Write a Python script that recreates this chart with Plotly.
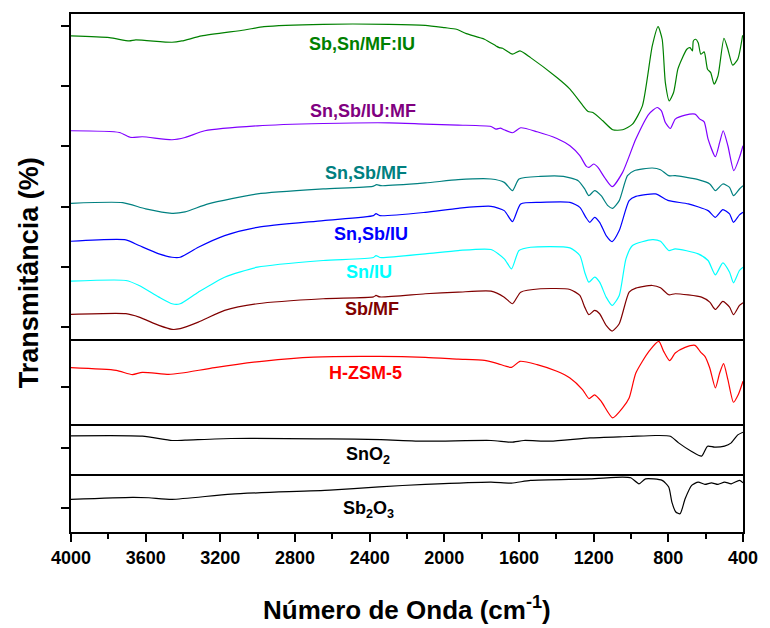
import plotly.graph_objects as go
from plotly.subplots import make_subplots

# ---- data (wavenumber, cm-1) and transmittance (arbitrary, stacked units) ----
wn_g = [4000, 3794, 3688, 3653, 3459, 3406, 3300, 3071, 2966, 2649, 2296, 2102, 1997, 1935, 1882, 1785, 1723, 1706, 1688,
        1635, 1595, 1538, 1397, 1327, 1257, 1230, 1204, 1151, 1098, 1045, 992, 939, 886, 855, 833, 816, 795, 772, 749,
        728, 701, 684, 671, 666, 654, 640, 626, 608, 590, 573, 555, 534, 502, 481, 455, 428, 402]
t_g = [497, 495.3, 492, 493, 490.7, 492, 497, 503, 506.3, 508.7, 508.7, 507.7, 505.3, 503.7, 499.3, 493.7, 487, 485.3, 484.7,
       478.7, 482, 475.3, 455.3, 443.7, 427, 421.3, 420.3, 412, 403, 403, 408.7, 427, 487, 506.3, 493.7, 450.3, 432, 440.3, 463.7,
       473.7, 483.7, 485.3, 482, 492, 493.7, 490.3, 478.7, 481, 463.7, 460.3, 448.7, 457, 494.7, 483.7, 467.7, 473.7, 497.7]

wn_p = [4000, 3741, 3679, 3618, 3459, 3389, 3283, 3001, 2649, 2296, 2102, 1926, 1750, 1723, 1700, 1679, 1635, 1591, 1503,
        1397, 1327, 1274, 1239, 1225, 1200, 1177, 1142, 1101, 1045, 974, 904, 860, 837, 816, 789, 763, 710, 657, 631, 608,
        587, 548, 525, 506, 481, 449, 419, 400]
t_p = [402, 400.3, 395.3, 396, 393, 395.3, 402, 407, 409.3, 410, 408.7, 407.7, 406.3, 403.7, 404.7, 403, 400, 405, 401,
       394.3, 387, 377, 366.3, 365.3, 368.7, 365.3, 355.3, 346, 360.3, 393.7, 418.7, 425.3, 422, 410.3, 404.3, 413.7, 417.7,
       418.7, 413.7, 411, 393.7, 376, 390.3, 402, 387, 362, 375.3, 387]

wn_t = [4000, 3723, 3600, 3459, 3389, 3265, 3001, 2649, 2384, 2363, 2340, 2102, 1926, 1750, 1679, 1635, 1600, 1485, 1362,
        1283, 1248, 1226, 1195, 1160, 1124, 1098, 1063, 1019, 983, 886, 842, 798, 763, 640, 578, 548, 508, 472, 451, 419, 400]
t_t = [329.3, 330, 323.7, 319.3, 320.7, 328.7, 338.7, 343.7, 346.3, 348, 347, 349.7, 353, 353.7, 350.3, 342, 353.7, 356.3,
       356.3, 352, 343.7, 337, 342, 337, 327, 324.3, 332, 357, 362, 364.7, 363, 357, 357, 353, 348.7, 342, 348.7, 345.3, 337,
       343.7, 347]

wn_b = [4000, 3706, 3635, 3529, 3459, 3415, 3318, 3177, 3001, 2649, 2380, 2366, 2345, 2102, 1926, 1750, 1679, 1635, 1591,
        1485, 1327, 1274, 1242, 1221, 1195, 1168, 1133, 1101, 1063, 1010, 974, 869, 798, 693, 587, 548, 508, 472, 451, 419, 400]
t_b = [291.3, 292.7, 287, 278.7, 275.3, 275.3, 285.3, 297, 305.3, 312, 317, 319, 317, 320.3, 324.3, 326.3, 322, 311, 328.7,
       330.3, 330.3, 325.3, 315.3, 310.3, 315.3, 310.3, 297, 291, 302, 332, 336.3, 338.7, 332, 328.7, 322, 315.3, 323, 318.7,
       310.3, 317.7, 320.3]

wn_c = [4000, 3706, 3635, 3529, 3459, 3415, 3318, 3177, 3001, 2649, 2380, 2366, 2345, 2102, 1926, 1750, 1679, 1640, 1600,
        1538, 1327, 1274, 1248, 1226, 1195, 1168, 1133, 1101, 1063, 1027, 992, 886, 842, 798, 763, 640, 587, 548, 508, 472,
        451, 419, 400]
t_c = [251.3, 252, 247, 235.3, 228.7, 228.7, 240.3, 255.3, 265.3, 272, 275, 277, 275, 278.7, 282, 283, 273.7, 263.7, 282,
       285.3, 284.7, 277, 260.3, 250.3, 255.3, 250.3, 235.3, 227, 237, 273.7, 287, 293, 291.3, 282, 283.7, 278.7, 272, 257.7,
       269.7, 260.3, 249.7, 262, 265.3]

wn_w = [4000, 3706, 3635, 3529, 3459, 3415, 3318, 3177, 3001, 2649, 2380, 2366, 2345, 2102, 1926, 1750, 1679, 1635, 1591,
        1485, 1327, 1274, 1248, 1226, 1195, 1168, 1133, 1101, 1063, 1010, 974, 886, 842, 798, 763, 622, 578, 548, 508, 472,
        451, 419, 400]
t_w = [218, 218.7, 215.3, 207, 203, 203.7, 210.3, 222, 228.7, 233.7, 235.5, 237, 235.5, 238.7, 240.3, 241.3, 235.3, 228.7,
       240.3, 243.7, 243, 237, 225.3, 217.7, 222, 218.7, 207, 201.3, 208.7, 240.3, 244.3, 247, 244.7, 237.7, 238.7, 235.3,
       230.3, 223, 231, 225.3, 217.7, 227, 229.7]

wn_r = [4000, 3758, 3671, 3618, 3477, 3406, 3230, 2965, 2701, 2349, 2102, 1926, 1785, 1714, 1640, 1595, 1503, 1397, 1327,
        1260, 1225, 1195, 1160, 1098, 1045, 1010, 974, 904, 851, 825, 793, 763, 710, 657, 626, 604, 578, 548, 525, 504, 481,
        451, 425, 400]
t_r = [164.7, 162, 157.7, 160, 158, 159.3, 164.7, 171.3, 175.3, 176, 175, 173.3, 172, 168.7, 165, 171, 167.7, 161, 154.3,
       142.7, 133.7, 137.3, 131, 114.3, 124.3, 134.3, 159.3, 181, 191, 181, 171.7, 179.3, 185, 187, 180, 176, 164.3, 144.3,
       159.3, 168.7, 152.7, 130, 137.7, 151]

wn_sn = [4000, 3618, 3459, 3389, 3141, 2613, 2340, 2102, 1750, 1640, 1574, 1433, 1221, 1010, 869, 789, 745, 675, 622, 590,
         552, 499, 463, 428, 400]
t_sn = [96.3, 96, 91.7, 92, 93.7, 93.3, 92.5, 91, 91.7, 90, 91.7, 91, 94.3, 95.7, 96.7, 96, 89.3, 80.7, 76, 86, 85, 86,
        89.3, 97.3, 100]

wn_sb = [4000, 3671, 3583, 3459, 3141, 2613, 2349, 2102, 1750, 1640, 1538, 1221, 1045, 1001, 957, 922, 833, 798, 781, 760,
         737, 710, 675, 640, 604, 569, 534, 499, 463, 419, 400]
t_sb = [32.7, 34.7, 34.3, 32.7, 38, 42, 45.3, 47.7, 50, 49, 51.7, 53.3, 55, 54.3, 48.3, 53.3, 51.7, 45, 30, 20, 18.3, 33.3,
        46.7, 50, 47.7, 49.3, 47.7, 50, 48.3, 51.7, 49.3]

x_ticks = [4000, 3600, 3200, 2800, 2400, 2000, 1600, 1200, 800, 400]

# name, x, y, line colour, label colour, row, label (wn, T)
series = [
    ("Sb,Sn/MF:IU", wn_g, t_g, "#008000", "#008000", 1, 2440, 489),
    ("Sn,Sb/IU:MF", wn_p, t_p, "#8000FF", "#800080", 1, 2435, 422),
    ("Sn,Sb/MF", wn_t, t_t, "#008080", "#008080", 1, 2422, 360),
    ("Sn,Sb/IU", wn_b, t_b, "#0000FF", "#0000FF", 1, 2393, 299),
    ("Sn/IU", wn_c, t_c, "#00FFFF", "#00FFFF", 1, 2401, 261),
    ("Sb/MF", wn_w, t_w, "#800000", "#800000", 1, 2388, 223),
    ("H-ZSM-5", wn_r, t_r, "#FF0000", "#FF0000", 2, 2425, 159),
    ("SnO<sub>2</sub>", wn_sn, t_sn, "#000000", "#000000", 3, 2409, 77),
    ("Sb<sub>2</sub>O<sub>3</sub>", wn_sb, t_sb, "#000000", "#000000", 4, 2404, 23),
]

yranges = {1: [193, 519], 2: [108, 193], 3: [58, 108], 4: [0, 58]}

FONT = "Liberation Sans, Arial, sans-serif"

fig = make_subplots(rows=4, cols=1, shared_xaxes=True, vertical_spacing=0,
                    row_heights=[326, 85, 50, 58])

for name, xs, ys, lc, tc, row, lx, ly in series:
    fig.add_trace(go.Scatter(x=xs, y=ys, mode="lines", line=dict(color=lc, width=1.2, shape="spline", smoothing=0.6),
                             name=name, showlegend=False, hoverinfo="skip"), row=row, col=1)
    xr = "x" if row == 1 else f"x{row}"
    yr = "y" if row == 1 else f"y{row}"
    fig.add_annotation(x=lx, y=ly, xref=xr, yref=yr, text=name, showarrow=False,
                       font=dict(family=FONT, size=18, color=tc, weight="bold"))

for r in range(1, 5):
    fig.update_yaxes(range=yranges[r], tick0=24, dtick=60.4, ticks="outside", ticklen=8, tickwidth=2,
                     tickcolor="black", showticklabels=False, showline=True, linecolor="black", linewidth=2,
                     mirror=True, showgrid=False, zeroline=False, row=r, col=1)
    fig.update_xaxes(range=[4000, 400], showline=True, linecolor="black", linewidth=2, mirror=(r == 1),
                     showgrid=False, zeroline=False, row=r, col=1,
                     ticks="" if r < 4 else "outside", showticklabels=(r == 4))

fig.update_xaxes(tickvals=x_ticks, ticklen=8, tickwidth=2, tickcolor="black",
                 tickfont=dict(family=FONT, size=18, color="black", weight="bold"),
                 minor=dict(ticks="outside", dtick=200, tick0=400, ticklen=5, tickwidth=2, tickcolor="black"),
                 row=4, col=1)

fig.add_annotation(x=0.5, y=-0.148, xref="paper", yref="paper", text="Número de Onda (cm<sup>-1</sup>)",
                   showarrow=False, xanchor="center", yanchor="middle",
                   font=dict(family=FONT, size=26, color="black", weight="bold"))
fig.add_annotation(x=-0.062, y=0.5, xref="paper", yref="paper", text="Transmitância (%)", textangle=-90,
                   showarrow=False, xanchor="center", yanchor="middle",
                   font=dict(family=FONT, size=27, color="black", weight="bold"))

fig.update_layout(width=770, height=628, margin=dict(l=71, r=18, t=13, b=96),
                  paper_bgcolor="white", plot_bgcolor="white")

# remove the browser's default 8px page margin so the figure fills the 770x628 window
fig.write_html("out.html", config={"displayModeBar": False, "responsive": False},
               post_script="document.body.style.margin='0';")
